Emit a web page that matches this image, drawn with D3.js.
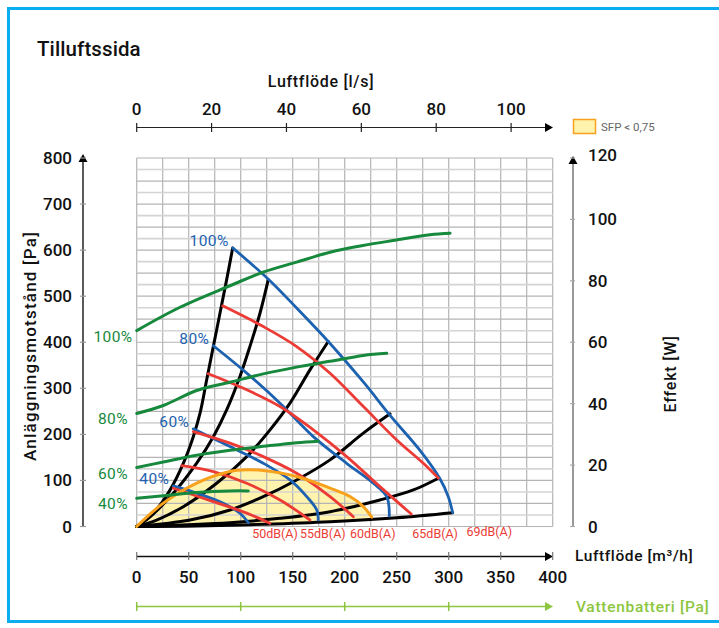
<!DOCTYPE html>
<html><head><meta charset="utf-8">
<script src="https://cdn.jsdelivr.net/npm/d3@7"></script>
<style>
html,body{margin:0;padding:0;background:#fff;}
svg{display:block;font-family:Roboto,"Noto Sans",sans-serif;}
</style></head>
<body>
<svg id="c" width="719" height="628"></svg>
<script>
// ---------- DATA ----------
const flowTicks = [0,50,100,150,200,250,300,350,400];      // m³/h
const lsTicks = [0,20,40,60,80,100];                         // l/s
const paTicks = [0,100,200,300,400,500,600,700,800];         // Pa
const wTicks = [0,20,40,60,80,100,120];                      // W
const waterTicks = [0,100,200,300];                          // m³/h positions of Vattenbatteri ticks

// fan speed curves [m³/h, Pa]
const fanLabels = ["100%","80%","60%","40%"];
const fan100 = [[92.3,604.8],[127.6,534.8],[153.8,474.3],[184.2,401.7],[218.9,311.1],[243.6,241.3],[272.4,165.2],[291.6,103.6],[299.6,64.8],[303.8,30]];
const fan80  = [[73.7,392.4],[105.8,333],[137.8,267.8],[169.8,195.2],[201.9,137.2],[227.5,93.9],[240.4,64.8],[242.9,22.8]];
const fan60  = [[54.4,212],[89.7,173.5],[121.7,137.4],[147.4,101.1],[163.5,64.8],[173.1,35.9],[174.6,14.1]];
const fan40  = [[35.2,88],[57.7,72.2],[83.3,50.4],[99.3,28.7],[107.3,8.3]];

// sound level curves [m³/h, Pa]
const soundLabels = ["50dB(A)","55dB(A)","60dB(A)","65dB(A)","69dB(A)"];
const soundLabelAt = [111,157,205,265,317];                  // m³/h where label starts
const snd50 = [[35.2,83],[73.7,54],[105.8,29],[128.1,7]];
const snd55 = [[43.3,132.2],[73.7,119.1],[105.8,93.9],[137.8,57.6],[166.6,14.1]];
const snd60 = [[54.4,206.1],[89.7,180.9],[121.7,151.7],[153.8,115.6],[185.9,64.8],[208.3,21.3]];
const snd65 = [[68.8,331.5],[105.8,296.7],[137.8,260.4],[169.8,209.8],[201.9,151.7],[233.9,86.5],[264,27]];
const snd69 = [[82.7,479],[121.7,434],[153.8,390.7],[185.9,332.6],[218,260.3],[250,187.9],[275.6,137.2],[290,105]];

// system curves [m³/h, Pa]
const sys1 = [[0,0],[16,28.7],[32,79],[44.8,137],[54.4,195],[60.9,246],[67.3,318.5],[73.7,391],[80.1,463.5],[86.5,535.9],[92.3,604.8]];
const sys2 = [[0,0],[12.8,21],[35.2,72],[57.7,137.4],[73.7,195],[86.5,253],[99.3,325.7],[108.9,391],[118.6,463.5],[126.5,535.9]];
const sys3 = [[0,0],[19.2,14],[44.8,43],[76.9,93.9],[105.8,151.7],[128.2,209.8],[147.4,267.8],[166.6,340],[184.2,401.7]];
const sys4 = [[0,0],[51.3,14],[89.7,35.9],[121.7,64.8],[153.8,101],[185.9,144.6],[217.9,202.6],[243.6,244.6]];
const sys5 = [[0,0],[89.7,8.3],[137.8,17.8],[185.9,32.2],[233.9,57.6],[266,79.3],[290,104.8]];
const sys6 = [[0,0],[57.7,1],[121.7,4.8],[185.9,10.4],[250,19.1],[303.8,30]];

// power curves [m³/h, W]
const powLabels = ["100%","80%","60%","40%"];
const pow100 = [[0,63.8],[41.6,71.4],[89.7,78.4],[121.4,82.8],[153.8,86.1],[185.9,89.3],[217.6,91.5],[250,93.3],[282,95],[301.3,95.5]];
const pow80  = [[0,36.8],[25.6,39.4],[57.7,44.3],[89.7,47],[121.7,49.7],[153.8,51.9],[185.9,53.8],[217.9,55.7],[240.4,56.4]];
const pow60  = [[0,19.2],[25.6,21],[57.7,23.2],[89.7,24.8],[121.7,26.1],[153.8,27.3],[174.6,27.8]];
const pow40  = [[0,9.2],[25.6,10],[57.7,11.1],[89.7,11.6],[107.3,11.6]];

// SFP < 0.75 boundary [m³/h, Pa]
const sfp = [[0,0],[25.6,50.7],[57.7,94.2],[89.7,119.3],[105.8,123],[121.7,121.5],[153.8,108.5],[185.9,83.3],[205.1,65.1],[217.9,43.3],[226,20.2]];

// ---------- DRAW ----------
const svg = d3.select("#c");
const x = d3.scaleLinear().domain([0,400]).range([136.7,552.7]);
const xls = d3.scaleLinear().domain([0,400/3.6]).range([136.7,552.7]);
const yL = d3.scaleLinear().domain([0,800]).range([526.5,158]);
const yR = d3.scaleLinear().domain([0,120]).range([526.5,158]);

const BLUE="#1d62b0", RED="#ec3b35", GREEN="#17893d", ORANGE="#f7a11c", FILL="#fff3ad", LGREEN="#8cc63f", CYAN="#0aaef0";

// border
svg.append("rect").attr("x",8.5).attr("y",8.5).attr("width",760).attr("height",613)
  .attr("fill","none").attr("stroke",CYAN).attr("stroke-width",3);

// title
svg.append("text").attr("x",37).attr("y",56).attr("font-size",20.5).attr("font-weight",500).attr("letter-spacing",0.1).attr("fill","#111").text("Tilluftssida");

// SFP fill
const lineL = d3.line().x(d=>x(d[0])).y(d=>yL(d[1])).curve(d3.curveCatmullRom.alpha(0.5));
const lastQ = sfp[sfp.length-1][0];
function interp(arr,q){for(let i=1;i<arr.length;i++){if(arr[i][0]>=q){const a=arr[i-1],b=arr[i];return a[1]+(b[1]-a[1])*(q-a[0])/(b[0]-a[0]);}}return arr[arr.length-1][1];}
const lower = [[lastQ,interp(sys6,lastQ)]].concat(sys6.filter(d=>d[0]<lastQ).reverse());
const sfpPath = lineL(sfp);
const lowerPath = d3.line().x(d=>x(d[0])).y(d=>yL(d[1]))(lower);
svg.append("path").attr("d", sfpPath + "L" + lowerPath.slice(1) + "Z").attr("fill",FILL).attr("stroke","none");

// grid
const g = svg.append("g");
d3.range(0,401,25).forEach(q=>{
  g.append("line").attr("x1",x(q)).attr("x2",x(q)).attr("y1",yL(0)).attr("y2",yL(800))
   .attr("stroke","#b4b4b4").attr("stroke-width",1.2);
});
d3.range(0,801,25).forEach(p=>{
  g.append("line").attr("x1",x(0)).attr("x2",x(400)).attr("y1",yL(p)).attr("y2",yL(p))
   .attr("stroke", p%50===0?"#b4b4b4":"#d4d4d4").attr("stroke-width",p%50===0?1.2:1.6);
});

// curves
function drawLine(data, scaleY, color, w){
  svg.append("path").attr("d", d3.line().x(d=>x(d[0])).y(d=>scaleY(d[1])).curve(d3.curveCatmullRom.alpha(0.5))(data))
    .attr("fill","none").attr("stroke",color).attr("stroke-width",w).attr("stroke-linecap","round").attr("stroke-linejoin","round");
}
[sys1,sys2,sys3,sys4,sys5,sys6].forEach(s=>drawLine(s,yL,"#000",3));
[fan100,fan80,fan60,fan40].forEach(s=>drawLine(s,yL,BLUE,2.8));
[snd50,snd55,snd60,snd65,snd69].forEach(s=>drawLine(s,yL,RED,2.8));
drawLine(sfp,yL,ORANGE,3);
[pow100,pow80,pow60,pow40].forEach(s=>drawLine(s,yR,GREEN,3));

// fan labels
[fan100,fan80,fan60,fan40].forEach((s,i)=>{
  svg.append("text").attr("x",x(s[0][0])-4).attr("y",yL(s[0][1])-2).attr("text-anchor","end")
    .attr("font-size",15.5).attr("letter-spacing",0.4).attr("fill",BLUE).text(fanLabels[i]);
});
// power labels
[pow100,pow80,pow60,pow40].forEach((s,i)=>{
  svg.append("text").attr("x",113).attr("y",yR(s[0][1])+11).attr("text-anchor","middle")
    .attr("font-size",15.5).attr("letter-spacing",0.4).attr("fill",GREEN).text(powLabels[i]);
});
// sound labels
soundLabels.forEach((t,i)=>{
  svg.append("text").attr("x",x(soundLabelAt[i])).attr("y",i===4?536:538)
    .attr("font-size",12.5).attr("fill",RED).text(t);
});

// arrow helper
function arrow(px,py,dir,color){
  const s=4.5;
  let pts = dir==="right" ? [[px,py],[px-8,py-s],[px-8,py+s]] : [[px,py],[px-s,py+8],[px+s,py+8]];
  svg.append("path").attr("d","M"+pts.map(p=>p.join(",")).join("L")+"Z").attr("fill",color);
}

// top axis (l/s)
svg.append("line").attr("x1",x(0)).attr("x2",551).attr("y1",127.5).attr("y2",127.5).attr("stroke","#222").attr("stroke-width",1.2);
arrow(553,127.5,"right","#000");
lsTicks.forEach(v=>{
  svg.append("line").attr("x1",xls(v)).attr("x2",xls(v)).attr("y1",123).attr("y2",132).attr("stroke","#222").attr("stroke-width",1.2);
  svg.append("text").attr("x",xls(v)).attr("y",115).attr("text-anchor","middle").attr("font-size",17).attr("font-weight",500).attr("fill","#111").text(v);
});
svg.append("text").attr("x",321).attr("y",87).attr("text-anchor","middle").attr("font-size",16).attr("letter-spacing",0.7).attr("font-weight",500).attr("fill","#111").text("Luftflöde [l/s]");

// legend
svg.append("rect").attr("x",573.5).attr("y",119.5).attr("width",22).attr("height",14).attr("fill",FILL).attr("stroke",ORANGE).attr("stroke-width",1.5);
svg.append("text").attr("x",601).attr("y",131).attr("font-size",11.5).attr("fill","#666").text("SFP < 0,75");

// left axis
svg.append("line").attr("x1",83).attr("x2",83).attr("y1",yL(0)).attr("y2",160).attr("stroke","#000").attr("stroke-width",1.3);
arrow(83,154,"up","#000");
paTicks.forEach(v=>{
  svg.append("line").attr("x1",80).attr("x2",86).attr("y1",yL(v)).attr("y2",yL(v)).attr("stroke","#999").attr("stroke-width",1.2);
  svg.append("text").attr("x",72).attr("y",yL(v)+6).attr("text-anchor","end").attr("font-size",17).attr("font-weight",500).attr("fill","#111").text(v);
});
svg.append("text").attr("transform","translate(36,346) rotate(-90)").attr("text-anchor","middle")
  .attr("font-size",17).attr("letter-spacing",1.2).attr("font-weight",500).attr("fill","#111").text("Anläggningsmotstånd [Pa]");

// right axis
svg.append("line").attr("x1",573).attr("x2",573).attr("y1",yR(0)).attr("y2",162).attr("stroke","#777").attr("stroke-width",1.5);
arrow(573,156,"up","#000");
wTicks.forEach(v=>{
  svg.append("line").attr("x1",570).attr("x2",575).attr("y1",yR(v)).attr("y2",yR(v)).attr("stroke","#aaa").attr("stroke-width",1.2);
  svg.append("text").attr("x",588).attr("y",yR(v)+(v===120?3:6)).attr("font-size",17).attr("font-weight",500).attr("fill","#111").text(v);
});
svg.append("text").attr("transform","translate(676,374) rotate(-90)").attr("text-anchor","middle")
  .attr("font-size",16).attr("letter-spacing",0.8).attr("font-weight",500).attr("fill","#111").text("Effekt [W]");

// bottom axis (m³/h)
svg.append("line").attr("x1",x(0)).attr("x2",550).attr("y1",556.5).attr("y2",556.5).attr("stroke","#111").attr("stroke-width",1.3);
arrow(553,556.5,"right","#000");
flowTicks.forEach(v=>{
  svg.append("line").attr("x1",x(v)).attr("x2",x(v)).attr("y1",552).attr("y2",560).attr("stroke","#777").attr("stroke-width",1.2);
  svg.append("text").attr("x",x(v)).attr("y",583).attr("text-anchor","middle").attr("font-size",17).attr("font-weight",500).attr("fill","#111").text(v);
});
svg.append("text").attr("x",575).attr("y",561).attr("font-size",15.5).attr("letter-spacing",0.6).attr("font-weight",500).attr("fill","#111").text("Luftflöde [m³/h]");

// Vattenbatteri axis
svg.append("line").attr("x1",x(0)).attr("x2",550).attr("y1",606.5).attr("y2",606.5).attr("stroke",LGREEN).attr("stroke-width",1.5);
arrow(553,606.5,"right",LGREEN);
waterTicks.forEach(v=>{
  svg.append("line").attr("x1",x(v)).attr("x2",x(v)).attr("y1",602).attr("y2",611).attr("stroke",LGREEN).attr("stroke-width",1.5);
});
svg.append("text").attr("x",576).attr("y",612).attr("font-size",15.5).attr("letter-spacing",0.7).attr("font-weight",500).attr("fill",LGREEN).text("Vattenbatteri [Pa]");
</script>
</body></html>
